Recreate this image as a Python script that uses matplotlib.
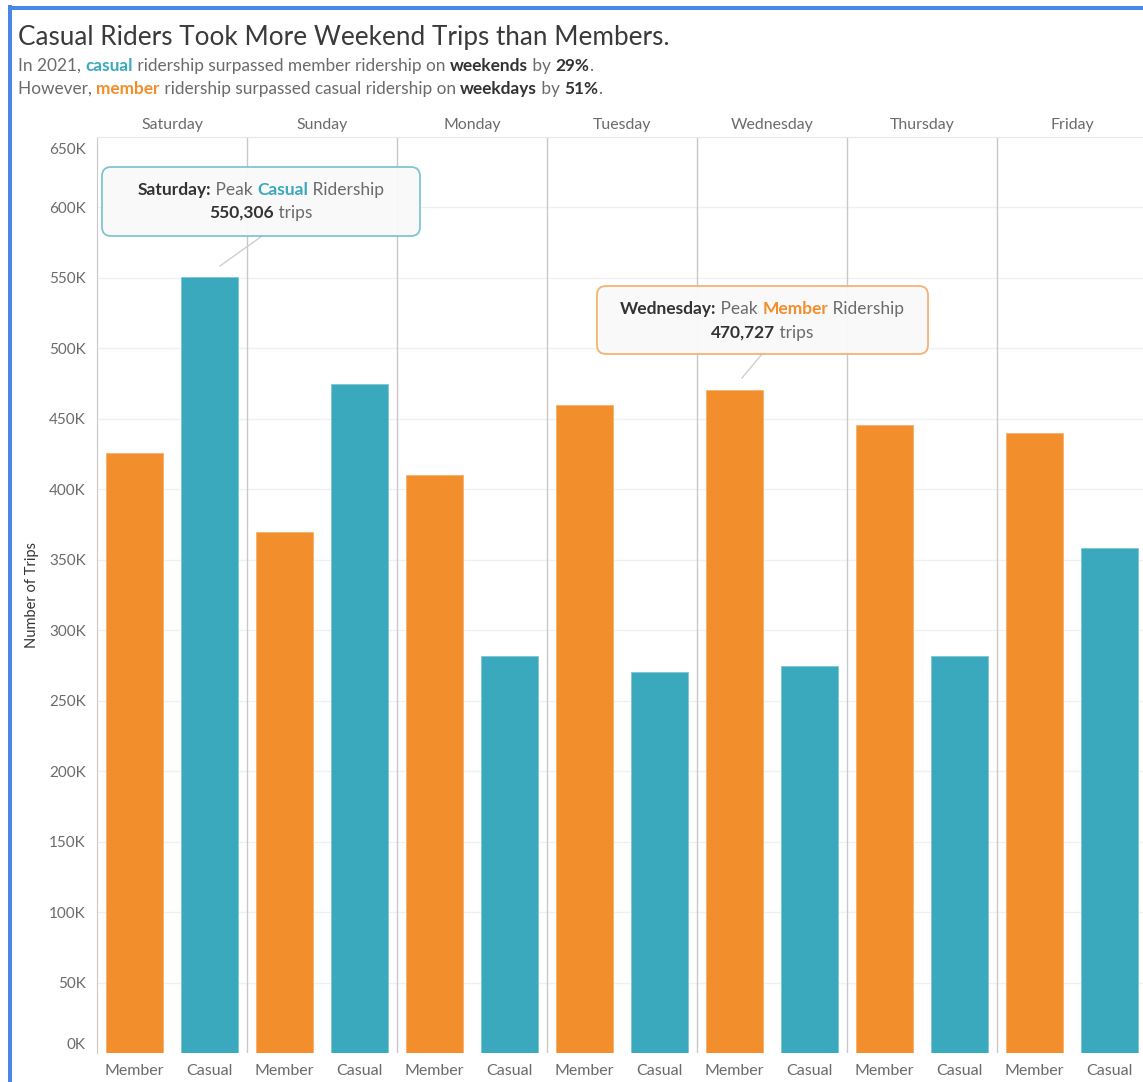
import matplotlib
matplotlib.use("Agg")
import matplotlib.pyplot as plt
from matplotlib.patches import FancyBboxPatch, Rectangle
from matplotlib.lines import Line2D
from matplotlib.transforms import IdentityTransform, ScaledTranslation
from matplotlib.ticker import FuncFormatter

# ---------------- data ----------------
days = ["Saturday", "Sunday", "Monday", "Tuesday", "Wednesday", "Thursday", "Friday"]
rider_types = ["Member", "Casual"]
member_trips = [426000, 369400, 409900, 459600, 470727, 445400, 439700]
casual_trips = [550306, 474500, 282000, 270700, 274900, 282000, 358700]
y_ticks = [0, 50000, 100000, 150000, 200000, 250000, 300000, 350000,
           400000, 450000, 500000, 550000, 600000, 650000]

ORANGE = "#F28E2B"
TEAL = "#3BA9BD"
DARK = "#333333"
GRAY = "#6b6b6b"
FONT = "Lato"

plt.rcParams["font.family"] = [FONT, "DejaVu Sans"]

W, H = 1143, 1082
fig = plt.figure(figsize=(W / 100, H / 100), dpi=100)
fig.patch.set_facecolor("white")

def fx(x):
    return x / W

def fy(y):
    return 1 - y / H

# plot area in pixels (from top-left)
L, R, T, B = 97, 1147, 137, 1053
ax = fig.add_axes([fx(L), fy(B), (R - L) / W, (B - T) / H])
n = len(days)
ax.set_xlim(0, 2 * n)
ax.set_ylim(0, 650000)

xs_m = [2 * i + 0.5 for i in range(n)]
xs_c = [2 * i + 1.5 for i in range(n)]
ax.bar(xs_m, member_trips, width=0.76, color=ORANGE, edgecolor="#f6b06e", linewidth=0.6, zorder=3)
ax.bar(xs_c, casual_trips, width=0.76, color=TEAL, edgecolor="#7cc6d3", linewidth=0.6, zorder=3)

# gridlines
for v in y_ticks[1:-1]:
    ax.axhline(v, color="#f0f0f0", lw=1, zorder=1)
# day separators
for i in range(1, n):
    ax.axvline(2 * i, color="#c8c8c8", lw=1, zorder=2)

for s in ["right", "bottom"]:
    ax.spines[s].set_visible(False)
ax.spines["left"].set_color("#c8c8c8")
ax.spines["top"].set_color("#e8e8e8")

ax.set_yticks(y_ticks)
ax.yaxis.set_major_formatter(FuncFormatter(lambda v, p: f"{int(v / 1000)}K"))
ax.tick_params(axis="y", length=0, pad=8, labelsize=11, labelcolor=GRAY)
ax.set_xticks(xs_m + xs_c)
ax.set_xticklabels([rider_types[0]] * n + [rider_types[1]] * n)
ax.tick_params(axis="x", length=0, pad=8, labelsize=11.5, labelcolor=GRAY)
ylabels = ax.get_yticklabels()
ylabels[0].set_verticalalignment("bottom")
ylabels[0].set_transform(ylabels[0].get_transform() + ScaledTranslation(0, 1 / 100, fig.dpi_scale_trans))
ylabels[-1].set_transform(ylabels[-1].get_transform() + ScaledTranslation(0, -11 / 100, fig.dpi_scale_trans))

ax.set_ylabel("Number of Trips", fontsize=10.5, color=DARK, labelpad=7)

# day headers
for i, d in enumerate(days):
    ax.text(2 * i + 1, 1.0 + 5 / (B - T), d, transform=ax.get_xaxis_transform(), ha="center",
            va="bottom", fontsize=11.4, color=GRAY)

# -------------- rich text helper --------------
renderer = fig.canvas.get_renderer()

def _w(s, size, weight):
    t1 = fig.text(0, 0, "|" + s + "|", fontsize=size, fontweight=weight)
    t2 = fig.text(0, 0, "||", fontsize=size, fontweight=weight)
    w = t1.get_window_extent(renderer).width - t2.get_window_extent(renderer).width
    t1.remove(); t2.remove()
    return w

def rich(x, y, segs, size, ha="left"):
    widths = [_w(s, size, wt) for s, c, wt in segs]
    total = sum(widths)
    x0 = x - total / 2 if ha == "center" else x
    for (s, c, wt), w in zip(segs, widths):
        fig.text(fx(x0), fy(y), s, fontsize=size, color=c, fontweight=wt, va="center", ha="left",
                 zorder=20)
        x0 += w

# title + subtitle
fig.text(fx(18), fy(38), "Casual Riders Took More Weekend Trips than Members.", fontsize=18.8,
         color="#3a3a3a", va="center", ha="left")
rich(18, 66, [("In 2021, ", GRAY, "normal"), ("casual", TEAL, "bold"),
              (" ridership surpassed member ridership on ", GRAY, "normal"),
              ("weekends", DARK, "bold"), (" by ", GRAY, "normal"), ("29%", DARK, "bold"),
              (".", GRAY, "normal")], 12.4)
rich(18, 89, [("However, ", GRAY, "normal"), ("member", ORANGE, "bold"),
              (" ridership surpassed casual ridership on ", GRAY, "normal"),
              ("weekdays", DARK, "bold"), (" by ", GRAY, "normal"), ("51%", DARK, "bold"),
              (".", GRAY, "normal")], 12.4)

# annotation boxes (pixel coords)
def box(x0, y0, x1, y1, ec):
    p = FancyBboxPatch((x0, H - y1), x1 - x0, y1 - y0, boxstyle="round,pad=0,rounding_size=9",
                       transform=IdentityTransform(), facecolor="#f9f9f9", edgecolor=ec, lw=1.3,
                       alpha=0.97, zorder=10)
    fig.add_artist(p)

def connector(x0, y0, x1, y1):
    fig.add_artist(Line2D([fx(x0), fx(x1)], [fy(y0), fy(y1)], color="#cfcfcf", lw=1,
                          transform=fig.transFigure))

connector(220, 266, 262, 236)
box(102, 167, 420, 236, "#7cc3d0")
rich(261, 190, [("Saturday:", DARK, "bold"), (" Peak ", GRAY, "normal"), ("Casual", TEAL, "bold"),
                (" Ridership", GRAY, "normal")], 12.5, ha="center")
rich(261, 213, [("550,306", DARK, "bold"), (" trips", GRAY, "normal")], 12.5, ha="center")

connector(742, 378, 762, 354)
box(597, 286, 928, 354, "#f6b06e")
rich(762, 309, [("Wednesday:", DARK, "bold"), (" Peak ", GRAY, "normal"), ("Member", ORANGE, "bold"),
                (" Ridership", GRAY, "normal")], 12.5, ha="center")
rich(762, 333, [("470,727", DARK, "bold"), (" trips", GRAY, "normal")], 12.5, ha="center")

# blue frame
fig.add_artist(Rectangle((fx(8), 0), fx(4), 1 - 5 / H, transform=fig.transFigure,
                         color="#4a86e8", lw=0))
fig.add_artist(Rectangle((fx(8), fy(10)), 1, 4 / H, transform=fig.transFigure,
                         color="#4a86e8", lw=0))

fig.savefig("out.png", dpi=100)
